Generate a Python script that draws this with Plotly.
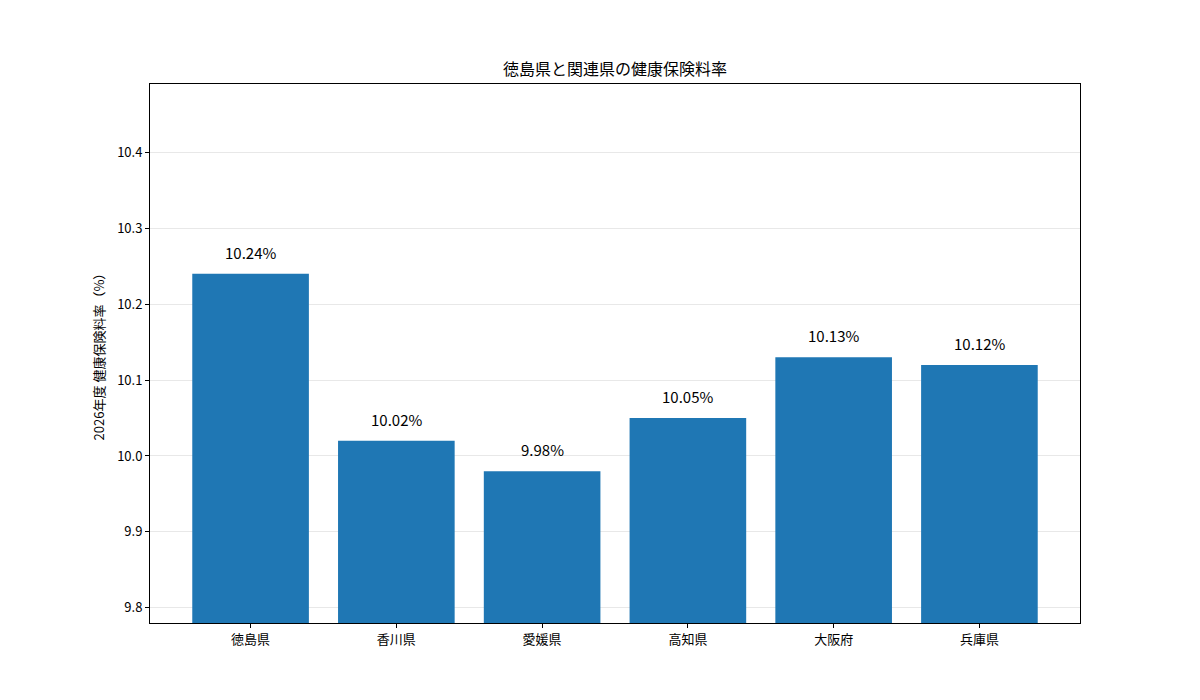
import plotly.graph_objects as go

prefectures = ["徳島県", "香川県", "愛媛県", "高知県", "大阪府", "兵庫県"]
rates = [10.24, 10.02, 9.98, 10.05, 10.13, 10.12]

font = "Noto Sans CJK JP"

fig = go.Figure()
fig.add_trace(go.Bar(x=list(range(len(prefectures))), y=rates, width=0.8,
                     marker=dict(color="#1f77b4", line=dict(width=0))))

# value labels a bit above each bar
for i, v in enumerate(rates):
    fig.add_annotation(x=i, y=v + 0.02, text=f"{v:.2f}%", showarrow=False,
                       yanchor="bottom", xanchor="center", yshift=-6,
                       font=dict(family=font, size=15, color="black"))

# page adds ~8px offset, so margins are shifted to compensate
fig.update_layout(
    width=1200, height=700,
    plot_bgcolor="white", paper_bgcolor="white",
    margin=dict(l=142, r=128, t=76, b=85),
    showlegend=False,
    font=dict(family=font, color="black"),
    title=dict(text="徳島県と関連県の健康保険料率", x=(615 - 8) / 1200, xanchor="center",
               y=1 - 61 / 700, yanchor="middle", font=dict(size=16)),
)
fig.update_xaxes(
    range=[-0.69, 5.69], tickvals=list(range(len(prefectures))), ticktext=prefectures,
    showgrid=False, showline=True, linecolor="black", linewidth=1, mirror=True,
    ticks="outside", ticklen=4, tickcolor="black", tickfont=dict(size=13), zeroline=False,
)
fig.update_yaxes(
    range=[9.78, 10.49], tickvals=[9.8, 9.9, 10.0, 10.1, 10.2, 10.3, 10.4],
    ticktext=["9.8", "9.9", "10.0", "10.1", "10.2", "10.3", "10.4"],
    showgrid=True, gridcolor="rgba(180,180,180,0.3)", gridwidth=1,
    showline=True, linecolor="black", linewidth=1, mirror=True,
    ticks="outside", ticklen=4, tickcolor="black", tickfont=dict(size=13), zeroline=False,
    title=dict(text="2026年度 健康保険料率（%）", font=dict(size=13), standoff=9),
    layer="above traces",
)

fig.write_html("out.html")
